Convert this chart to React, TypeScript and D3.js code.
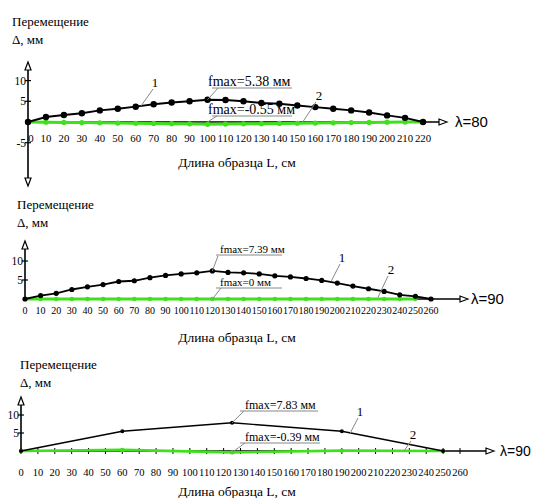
import React from 'react';
import * as d3 from 'd3';

// длина образца, см
const lenA = [0, 10, 20, 30, 40, 50, 60, 70, 80, 90, 100, 110, 120, 130, 140, 150, 160, 170, 180, 190, 200, 210, 220];
const lenB = [0, 10, 20, 30, 40, 50, 60, 70, 80, 90, 100, 110, 120, 130, 140, 150, 160, 170, 180, 190, 200, 210, 220, 230, 240, 250, 260];
const lenBGreen = [0, 10, 20, 30, 40, 50, 60, 70, 80, 90, 100, 110, 120, 130, 140, 150, 160, 170, 180, 190, 200, 210, 220, 230, 240, 250];
const lenC = [0, 60, 125, 190, 250];

// перемещение, мм
const defA1 = [0, 1.2, 1.7, 2.1, 2.8, 3.2, 3.7, 4.3, 4.7, 5.0, 5.38, 5.3, 5.0, 4.6, 4.4, 4.0, 3.6, 3.2, 2.8, 2.3, 1.6, 1.0, 0];
const defA2 = [0, -0.05, -0.1, -0.15, -0.2, -0.25, -0.3, -0.35, -0.4, -0.45, -0.55, -0.5, -0.45, -0.4, -0.35, -0.3, -0.25, -0.2, -0.15, -0.1, -0.05, -0.02, 0];
const defB1 = [0, 0.9, 1.5, 2.5, 3.2, 3.8, 4.6, 4.8, 5.6, 6.2, 6.6, 6.9, 7.39, 7.0, 6.9, 6.6, 6.1, 5.8, 5.4, 4.9, 4.2, 3.4, 2.7, 2.0, 1.1, 0.7, 0];
const defB2 = [0, 0, 0, 0, 0, 0, 0, 0, 0, 0, 0, 0, 0, 0, 0, 0, 0, 0, 0, 0, 0, 0, 0, 0, 0, 0];
const defC1 = [0, 5.5, 7.83, 5.5, 0];
const defC2 = [0, 0.3, -0.39, 0.1, 0];

const ticksA = [0, 10, 20, 30, 40, 50, 60, 70, 80, 90, 100, 110, 120, 130, 140, 150, 160, 170, 180, 190, 200, 210, 220];
const ticksB = [0, 10, 20, 30, 40, 50, 60, 70, 80, 90, 100, 110, 120, 130, 140, 150, 160, 170, 180, 190, 200, 210, 220, 230, 240, 250, 260];
const yTicksA = [-5, 5, 10];
const yTicksB = [5, 10];

const SERIF = '"Liberation Serif", "Times New Roman", serif';
const SANS = '"Liberation Sans", Arial, sans-serif';
const GREEN = '#3fe01c';

type Note = { text: string; tx: number; ty: number; size: number; ux1: number; ux2: number; lx: number; ly: number; at: [number, number] };
type Tag = { text: string; tx: number; ty: number; lx: number; ly: number; at: [number, number] };

function Panel(props: {
  xs: d3.ScaleLinear<number, number>; ys: d3.ScaleLinear<number, number>;
  len1: number[]; def1: number[]; len2: number[]; def2: number[];
  ticks: number[]; yTicks: number[]; tickSize: number; tickY: number;
  top: number; bottom?: number; xEnd: number; lambda: string; lambdaX: number; lambdaSize: number;
  title: [number, number]; axisLabelY: number; notes: Note[]; tags: Tag[];
  r1: number; r2: number; w1: number; w2: number; axisTicks?: boolean;
}) {
  const { xs, ys } = props;
  const x0 = xs(0), y0 = ys(0);
  const line = d3.line<[number, number]>().x(d => xs(d[0])).y(d => ys(d[1]));
  const s1 = props.len1.map((l, i) => [l, props.def1[i]] as [number, number]);
  const s2 = props.len2.map((l, i) => [l, props.def2[i]] as [number, number]);
  const [tx, ty] = props.title;
  // zero label is nudged right when a negative tick sits below the axis
  const zeroShift = props.yTicks.some(t => t < 0) ? 3 : 0;
  return (
    <g>
      <text x={tx} y={ty} fontFamily={SERIF} fontSize={13}>Перемещение</text>
      <text x={tx} y={ty + 18} fontFamily={SERIF} fontSize={13}>Δ, мм</text>
      {/* axes */}
      <line x1={x0} x2={x0} y1={props.top + 6} y2={props.bottom ? props.bottom - 6 : y0} stroke="#000" strokeWidth={1.6} />
      <path d={`M${x0},${props.top}L${x0 - 3},${props.top + 8}L${x0 + 3},${props.top + 8}Z`} fill="#fff" stroke="#000" strokeWidth={1.2} />
      {props.bottom && (
        <path d={`M${x0},${props.bottom}L${x0 - 3},${props.bottom - 8}L${x0 + 3},${props.bottom - 8}Z`} fill="#fff" stroke="#000" strokeWidth={1.2} />
      )}
      <line x1={x0} x2={props.xEnd - 6} y1={y0} y2={y0} stroke="#000" strokeWidth={1.6} />
      <path d={`M${props.xEnd},${y0}L${props.xEnd - 8},${y0 - 3}L${props.xEnd - 8},${y0 + 3}Z`} fill="#fff" stroke="#000" strokeWidth={1.2} />
      <text x={props.lambdaX} y={y0 + 5} fontFamily={SANS} fontSize={props.lambdaSize}>{props.lambda}</text>
      {props.yTicks.map(t => (
        <g key={t}>
          <line x1={x0 - 3} x2={x0 + 3} y1={ys(t)} y2={ys(t)} stroke="#000" strokeWidth={1.2} />
          <text x={x0 - 2} y={ys(t) + 4} textAnchor="end" fontFamily={SERIF} fontSize={11.5}>{t}</text>
        </g>
      ))}
      {props.axisTicks && props.ticks.map(t => (
        <line key={t} x1={xs(t)} x2={xs(t)} y1={y0 - 3} y2={y0 + 3} stroke="#000" strokeWidth={1} />
      ))}
      {props.ticks.map(t => (
        <text key={t} x={xs(t) + (t === 0 ? zeroShift : 0)} y={props.tickY} textAnchor="middle" fontFamily={SERIF} fontSize={props.tickSize}>{t}</text>
      ))}
      <text x={237} y={props.axisLabelY} textAnchor="middle" fontFamily={SERIF} fontSize={13.5}>Длина образца L, см</text>
      {/* series 2 (green) */}
      <path d={line(s2) ?? ''} fill="none" stroke={GREEN} strokeWidth={props.w2} />
      {s2.map((d, i) => <circle key={i} cx={xs(d[0])} cy={ys(d[1])} r={props.r2} fill={GREEN} />)}
      {/* series 1 (black) */}
      <path d={line(s1) ?? ''} fill="none" stroke="#000" strokeWidth={props.w1} />
      {s1.map((d, i) => <circle key={i} cx={xs(d[0])} cy={ys(d[1])} r={props.r1} fill="#000" />)}
      {/* annotations */}
      {props.notes.map((n, i) => (
        <g key={i}>
          <text x={n.tx} y={n.ty} fontFamily={SERIF} fontSize={n.size}>{n.text}</text>
          <line x1={n.ux1} x2={n.ux2} y1={n.ty + 2} y2={n.ty + 2} stroke="#888" strokeWidth={1} />
          <line x1={n.lx} y1={n.ly} x2={xs(n.at[0])} y2={ys(n.at[1])} stroke="#888" strokeWidth={1} />
        </g>
      ))}
      {props.tags.map((n, i) => (
        <g key={i}>
          <text x={n.tx} y={n.ty} textAnchor="middle" fontFamily={SERIF} fontSize={13}>{n.text}</text>
          <line x1={n.lx} y1={n.ly} x2={xs(n.at[0])} y2={ys(n.at[1])} stroke="#888" strokeWidth={1} />
        </g>
      ))}
    </g>
  );
}

export default function App() {
  const xsA = d3.scaleLinear().domain([0, 220]).range([28, 423]);
  const ysA = d3.scaleLinear().domain([0, 5]).range([122, 101.3]);
  const xsB = d3.scaleLinear().domain([0, 260]).range([25, 431]);
  const ysB = d3.scaleLinear().domain([0, 5]).range([299, 280]);
  const xsC = d3.scaleLinear().domain([0, 260]).range([21, 460]);
  const ysC = d3.scaleLinear().domain([0, 5]).range([451, 433]);

  return (
    <svg width={533} height={498} style={{ position: 'absolute', left: 0, top: 0, background: '#fff' }}>
      <Panel xs={xsA} ys={ysA} len1={lenA} def1={defA1} len2={lenA} def2={defA2}
        ticks={ticksA} yTicks={yTicksA} tickSize={10.8} tickY={142}
        top={62} bottom={186} xEnd={447} lambda="λ=80" lambdaX={455} lambdaSize={15}
        title={[12, 26]} axisLabelY={167} r1={3.2} r2={2.6} w1={1.9} w2={3}
        notes={[
          { text: 'fmax=5.38 мм', tx: 208, ty: 86, size: 14, ux1: 212, ux2: 292, lx: 218, ly: 88, at: [100, 5.38] },
          { text: 'fmax=-0.55 мм', tx: 208, ty: 114, size: 14, ux1: 212, ux2: 292, lx: 217, ly: 116, at: [100, 0] },
        ]}
        tags={[
          { text: '1', tx: 155, ty: 87, lx: 153, ly: 89, at: [63, 3.9] },
          { text: '2', tx: 319, ty: 100, lx: 316, ly: 102, at: [153, 0] },
        ]}
      />
      <Panel xs={xsB} ys={ysB} len1={lenB} def1={defB1} len2={lenBGreen} def2={defB2}
        ticks={ticksB} yTicks={yTicksB} tickSize={10} tickY={314}
        top={241} xEnd={468} lambda="λ=90" lambdaX={471} lambdaSize={15}
        title={[17, 209]} axisLabelY={342} r1={2.6} r2={2.2} w1={1.8} w2={3}
        notes={[
          { text: 'fmax=7.39 мм', tx: 220, ty: 253, size: 11, ux1: 216, ux2: 282, lx: 218, ly: 256, at: [120, 7.39] },
          { text: 'fmax=0 мм', tx: 220, ty: 286, size: 11, ux1: 216, ux2: 282, lx: 221, ly: 288, at: [120, 0] },
        ]}
        tags={[
          { text: '1', tx: 342, ty: 262, lx: 340, ly: 264, at: [196, 4.6] },
          { text: '2', tx: 391, ty: 274, lx: 388, ly: 276, at: [226, 0.4] },
        ]}
      />
      <Panel xs={xsC} ys={ysC} len1={lenC} def1={defC1} len2={lenC} def2={defC2}
        ticks={ticksB} yTicks={yTicksB} tickSize={10.5} tickY={476}
        top={397} xEnd={494} lambda="λ=90" lambdaX={500} lambdaSize={14}
        title={[20, 369]} axisLabelY={496} r1={2} r2={2.2} w1={1.4} w2={2.6} axisTicks
        notes={[
          { text: 'fmax=7.83 мм', tx: 245, ty: 409, size: 12, ux1: 240, ux2: 318, lx: 244, ly: 411, at: [125, 7.83] },
          { text: 'fmax=-0.39 мм', tx: 245, ty: 441, size: 12, ux1: 240, ux2: 320, lx: 245, ly: 443, at: [125, -0.39] },
        ]}
        tags={[
          { text: '1', tx: 360, ty: 416, lx: 358, ly: 418, at: [195, 5.0] },
          { text: '2', tx: 413, ty: 439, lx: 411, ly: 441, at: [227, 0.1] },
        ]}
      />
    </svg>
  );
}
